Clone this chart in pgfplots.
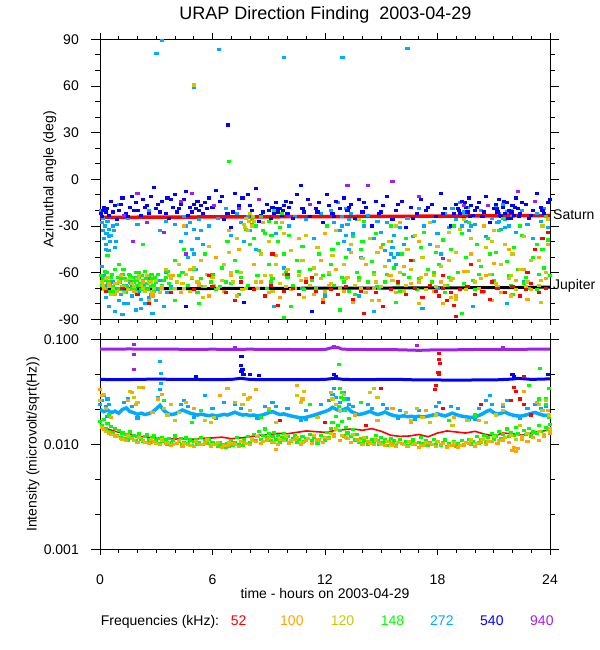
\documentclass[border=0pt]{standalone}
\usepackage{pgfplots}
\pgfplotsset{compat=1.18}
\usepackage{fontspec}
\setmainfont{Liberation Sans}
\definecolor{cfiftytwo}{RGB}{255,0,0}
\definecolor{chundred}{RGB}{255,165,0}
\definecolor{conetwenty}{RGB}{205,200,0}
\definecolor{conefortyeight}{RGB}{0,255,0}
\definecolor{ctwoseventwo}{RGB}{0,170,255}
\definecolor{cfivefourty}{RGB}{0,0,255}
\definecolor{cninefourty}{RGB}{160,32,240}
\pgfplotsset{
  dots/.style={only marks, mark=square*, mark size=1.05bp, mark options={xscale=1.5, line width=0pt}},
  common/.style={scale only axis, width=450bp, anchor=south west,
    xmin=0, xmax=24, xtick={0,6,12,18,24}, minor x tick num=5,
    tick align=outside, major tick length=6bp, minor tick length=3.3bp,
    major y tick style={/pgfplots/major tick length=9bp},
    minor y tick style={/pgfplots/minor tick length=4.5bp},
    axis line style={line width=0.9bp},
    tick style={line width=0.8bp, black},
    tick label style={font=\fontsize{14bp}{16bp}\selectfont},
    /pgf/number format/assume math mode=true,
    yticklabel style={anchor=east, inner sep=0pt, xshift=-15bp},
    xticklabel style={anchor=base, inner sep=0pt, yshift=-29bp},
  }
}
\begin{document}
\begin{tikzpicture}
\useasboundingbox (0,0) rectangle (600bp,650bp);
% ---------------- top panel ----------------
\begin{axis}[common, at={(100bp,330.7bp)}, height=280bp,
  ymin=-90, ymax=90, ytick={-90,-60,-30,0,30,60,90},
  yticklabels={-90,-60,-30,0,30,60,90}, minor y tick num=2,
  xticklabels={}]
\addplot[no marks, line width=3bp, black] coordinates {(0,-70.5)(6,-70.2)(12,-70.0)(18,-69.8)(22,-69.6)(24,-69.3)};
% 272 kHz
\addplot[dots, color=ctwoseventwo] coordinates {
(0.05,-20)(0.1,-28)(0.15,-33)(0.2,-38)(0.25,-30)(0.3,-42)(0.35,-35)(0.4,-27)(0.45,-46)(0.5,-32)(0.55,-40)(0.6,-36)(0.7,-30)(0.8,-44)(0.9,-29)
(0.1,-56)(0.2,-62)(0.3,-76)(0.4,-68)(0.5,-82)(0.6,-73)(0.7,-66)(0.8,-85)(0.9,-70)(1.0,-78)(1.1,-64)(1.2,-87)(1.3,-72)(1.4,-68)(1.5,-80)(1.6,-66)(1.7,-75)(1.8,-70)(1.9,-84)(2.0,-63)(2.1,-72)(2.2,-77)(2.3,-67)(2.4,-80)(2.5,-70)(2.6,-64)(2.7,-74)(2.8,-86)(2.9,-68)(3.0,-78)(3.1,-71)(3.2,-65)(3.4,-82)(3.6,-73)(3.8,-69)
(1.0,-16)(1.5,-25)(2.0,-29)(2.6,-20)(3.2,-33)(3.5,-27)(4.0,-29)(4.3,-40)(4.5,-24)(4.6,-35)(4.7,-50)(4.8,-28)(4.9,-45)(5.0,-32)(5.1,-58)(5.2,-38)(5.3,-26)(5.5,-42)(5.8,-30)(6.0,-61)(6.3,-25)(6.7,-19)(7.0,-36)(7.3,-22)(7.5,-28)(7.7,-40)(7.9,-24)(8.0,-33)(8.3,-45)(8.6,-23)(9.0,-27)(9.4,-35)(9.8,-57)(10.1,-30)(10.4,-24)(10.8,-70)(11.0,-26)(11.4,-38)(11.8,-22)(12.0,-75)
(12.3,-20)(12.5,-28)(12.7,-15)(12.8,-33)(12.9,-24)(13.0,-40)(13.1,-19)(13.2,-29)(13.3,-45)(13.4,-22)(13.5,-35)(13.7,-26)(13.9,-50)(14.1,-30)(14.3,-23)(14.6,-38)(14.8,-27)(15.0,-34)(15.2,-46)(15.3,-28)(15.4,-52)(15.5,-40)(15.6,-44)(15.7,-36)(15.8,-55)(15.9,-48)(16.0,-31)(16.2,-42)(16.4,-25)(16.7,-37)(17.0,-19)(17.3,-30)(17.6,-42)(17.8,-27)(18.0,-35)(18.2,-48)(18.4,-22)(18.6,-31)(18.8,-19)(19.0,-26)(19.2,-15)(19.3,-30)(19.4,-21)(19.5,-27)(19.6,-18)(19.7,-33)(19.8,-24)(20.0,-29)(20.3,-20)(20.6,-37)(20.9,-25)(21.1,-18)(21.2,-28)(21.3,-22)(21.4,-32)(21.5,-16)(21.6,-26)(21.7,-21)(21.8,-30)(22.0,-24)(22.2,-34)(22.5,-20)(22.8,-29)(23.1,-38)(23.3,-22)(23.5,-27)(23.7,-19)(23.9,-31)
(13.8,-75)(14.6,-85)(17.2,-83)(19.9,-82)(21.7,-80)(22.6,-66)(18.0,-70)(9.3,-82)(7.4,-74)(3.5,-60)
(0.15,-25)(0.3,-45)(0.5,-37)(0.75,-33)(0.85,-40)(1.1,-74)(1.3,-80)(1.7,-69)(2.2,-83)(2.6,-76)(3.0,-70)(4.6,-30)(5.0,-48)(5.4,-33)(8.1,-29)(12.9,-30)(13.1,-36)(13.3,-26)(15.5,-48)(15.7,-50)(19.5,-22)(19.8,-30)(21.3,-27)(21.6,-31)(21.9,-20)
(3.01,80.7)(3.3,89)(6.33,83.6)(9.8,78.2)(12.93,78.2)(16.4,83.8)(5.01,59.1)};
% 540 kHz
\addplot[dots, color=cfivefourty] coordinates {
(0.05,-22)(0.1,-24)(0.15,-20)(0.3,-21)(0.35,-19)(0.5,-23)(0.6,-14)(0.8,-17)(0.9,-26)(1.0,-20)(1.2,-12)(1.4,-22)(1.6,-18)(1.7,-11)(1.9,-15)(2.0,-20)(2.2,-23)(2.3,-13)(2.4,-18)(2.6,-22)(2.7,-11)(2.9,-5)(3.0,-19)(3.1,-16)(3.3,-14)(3.5,-22)(3.6,-12)(3.7,-25)(3.9,-18)(4.0,-10)(4.1,-21)(4.3,-16)(4.5,-13)(4.6,-8)(4.8,-18)(4.9,-21)(5.0,-16)(5.1,-19)(5.2,-14)(5.3,-20)(5.4,-17)(5.5,-22)(5.6,-15)(5.8,-12)(6.0,-18)(6.2,-7)(6.4,-14)(6.6,-26)(6.8,-22)(7.0,-31)(7.2,-9)(7.4,-17)(7.6,-12)(7.7,-79)(7.9,-10)(8.1,-20)(8.3,-6)(8.5,-27)(8.7,-21)(8.9,-16)(9.0,-20)(9.2,-18)(9.3,-22)(9.4,-15)(9.5,-21)(9.6,-19)(9.7,-23)(9.8,-17)(9.9,-14)(10.0,-22)(10.1,-18)(10.3,-25)(10.5,-10)(10.7,-4)(10.9,-21)(11.1,-13)(11.2,-24)(11.3,-85)(11.5,-19)(11.7,-15)(11.9,-28)(12.1,-10)(12.2,-17)(12.4,-22)(12.6,-14)(12.8,-19)(13.0,-12)(13.2,-20)(13.4,-16)(13.6,-25)(13.8,-13)(14.0,-21)(14.2,-18)(14.5,-30)(14.7,-14)(14.9,-22)(15.1,-17)(15.3,-11)(15.6,-26)(15.8,-20)(16.1,-14)(16.3,-31)(16.6,-18)(16.9,-22)(17.1,-13)(17.4,-20)(17.7,-16)(17.9,-24)(18.2,-9)(18.4,-19)(18.7,-30)(18.9,-22)(19.0,-16)(19.1,-19)(19.2,-22)(19.3,-14)(19.4,-25)(19.5,-18)(19.6,-21)(19.7,-12)(19.8,-17)(19.9,-23)(20.0,-20)(20.2,-15)(20.4,-24)(20.6,-11)(20.8,-28)(21.0,-19)(21.1,-16)(21.2,-21)(21.3,-13)(21.4,-24)(21.5,-18)(21.6,-22)(21.7,-15)(21.8,-20)(21.9,-25)(22.0,-17)(22.1,-23)(22.2,-12)(22.3,-19)(22.4,-22)(22.7,-16)(22.9,-25)(23.1,-20)(23.3,-9)(23.5,-18)(23.7,-22)(23.9,-15)(24.0,-13)(4.6,-82)(6.83,34.9)
(0.2,-18)(0.7,-21)(1.1,-16)(1.5,-24)(1.8,-20)(2.5,-17)(3.2,-21)(3.8,-13)(4.2,-19)(4.7,-23)(5.7,-19)(6.5,-11)(7.1,-21)(8.0,-17)(8.6,-23)(9.1,-25)(9.45,-19)(9.75,-20)(10.2,-15)(10.8,-19)(11.6,-21)(12.5,-24)(13.3,-18)(14.1,-15)(15.0,-21)(15.9,-16)(16.7,-25)(17.5,-18)(18.3,-22)(19.15,-20)(19.45,-15)(19.75,-24)(20.1,-18)(20.5,-21)(21.15,-19)(21.35,-23)(21.55,-14)(21.75,-25)(21.95,-21)(22.15,-18)(22.35,-24)(22.5,-15)(23.0,-23)(23.6,-20)};
% 940 kHz
\addplot[dots, color=cninefourty] coordinates {
(1.74,-40)(2.0,-9)(2.5,-28)(3.4,-34)(4.3,-14)(4.9,-9)(6.1,-17)(7.4,-19)(8.5,-13)(10.1,-24)(11.2,-16)(13.2,-4)(14.3,-4)(15.6,-1.5)(17.0,-11)(18.3,-51)(19.4,-17)(20.7,-17)(22.3,-8)(23.2,-14)(1.3,-23)(4.6,-48)};
% 148 kHz
\addplot[dots, color=conefortyeight] coordinates {
(0.05,-62)(0.1,-68)(0.2,-65)(0.3,-70)(0.35,-60)(0.45,-66)(0.5,-72)(0.6,-63)(0.7,-69)(0.8,-58)(0.9,-67)(1.0,-71)(1.1,-64)(1.2,-61)(1.3,-68)(1.4,-73)(1.5,-65)(1.6,-62)(1.7,-70)(1.8,-66)(1.9,-60)(2.0,-68)(2.1,-63)(2.2,-71)(2.3,-65)(2.4,-59)(2.5,-67)(2.6,-62)(2.7,-69)(2.8,-64)(2.9,-72)(3.0,-66)(3.1,-61)(3.3,-68)(3.5,-63)
(0.4,-49)(1.0,-55)(2.3,-42)(3.8,-70)(4.0,-52)(4.2,-62)(4.5,-45)(4.7,-68)(5.0,-58)(5.2,-73)(5.4,-64)(5.6,-48)(5.9,-66)(6.2,-71)(6.5,-57)(6.8,-40)(7.0,-67)(7.2,-52)(7.5,-63)(7.8,-32)(8.0,-42)(8.1,-26)(8.2,-38)(8.3,-30)(8.5,-46)(8.6,-24)(8.8,-35)(9.0,-55)(9.2,-64)(9.4,-28)(9.5,-40)(9.6,-31)(9.7,-22)(9.8,-48)(9.9,-60)(10.1,-36)(10.3,-68)(10.5,-52)(10.8,-43)(11.0,-66)(11.2,-58)(11.5,-70)(11.7,-48)(11.9,-62)(12.1,-30)(12.3,-55)(12.5,-68)(12.7,-41)(12.9,-63)(13.1,-50)(13.3,-72)(13.5,-37)(13.7,-60)(13.9,-45)(14.1,-27)(14.3,-66)(14.5,-53)(14.7,-35)(14.9,-70)(15.1,-42)(15.3,-61)(15.5,-30)(15.7,-57)(15.9,-67)(16.1,-48)(16.3,-38)(16.5,-63)(16.7,-52)(16.9,-71)(17.1,-44)(17.3,-34)(17.5,-58)(17.7,-66)(17.9,-47)(18.1,-55)(18.3,-39)(18.5,-68)(18.7,-45)(18.9,-30)(19.1,-60)(19.3,-35)(19.5,-50)(19.7,-28)(19.9,-65)(20.1,-42)(20.3,-56)(20.5,-72)(20.7,-38)(20.9,-61)(21.1,-47)(21.3,-33)(21.5,-25)(21.7,-53)(21.9,-68)(22.1,-44)(22.3,-58)(22.5,-36)(22.7,-63)(22.9,-70)(23.1,-50)(23.3,-42)(23.5,-65)(23.7,-57)(23.9,-39)(24.0,-62)
(6.4,-69)(8.9,-70)(10.9,-71)(12.0,-73)(13.6,-74)(14.8,-69)(16.0,-72)(18.4,-73)(20.0,-71)(22.0,-74)(23.3,-71)
(4.0,-78)(10.2,-82)(12.8,-84)(15.8,-79)(19.3,-86)(9.8,-89)(5.3,-80)(8.0,-22)(9.3,-20)(23.8,-24)(6.9,11.7)
(0.15,-64)(0.25,-59)(0.55,-68)(0.65,-61)(0.75,-72)(0.95,-63)(1.05,-66)(1.15,-70)(1.25,-58)(1.35,-64)(1.45,-69)(1.55,-61)(1.65,-67)(1.75,-63)(1.85,-71)(1.95,-65)(2.05,-60)(2.15,-67)(2.25,-62)(2.35,-69)(2.45,-64)(2.55,-71)(2.65,-66)(2.75,-61)(2.85,-68)(2.95,-63)(3.2,-70)(3.4,-65)(3.6,-59)(3.7,-67)(4.1,-66)(4.4,-60)(4.9,-64)(5.5,-69)(6.0,-62)(6.7,-66)(7.3,-59)(7.9,-68)(8.4,-62)(9.1,-66)(10.0,-63)(10.6,-59)(11.3,-65)(12.2,-61)(13.0,-66)(13.8,-63)(14.6,-60)(15.2,-66)(16.2,-61)(17.0,-64)(17.8,-60)(18.6,-63)(19.4,-67)(20.2,-61)(21.0,-65)(21.8,-62)(22.6,-67)(23.4,-61)(8.7,-33)(9.0,-27)(9.15,-36)(12.4,-45)(14.0,-40)(20.8,-48)(22.4,-30)(23.6,-45)};
% 120 kHz
\addplot[dots, color=conetwenty] coordinates {
(0.1,-66)(0.2,-71)(0.3,-64)(0.5,-69)(0.6,-74)(0.8,-67)(0.9,-72)(1.1,-62)(1.2,-69)(1.4,-65)(1.5,-71)(1.7,-67)(1.9,-73)(2.0,-64)(2.2,-68)(2.4,-72)(2.5,-62)(2.7,-66)(2.9,-70)(3.2,-73)
(3.5,-58)(3.8,-64)(4.0,-70)(4.2,-55)(4.4,-67)(4.6,-61)(4.8,-72)(5.0,-57)(5.2,-66)(5.4,-52)(5.6,-69)(5.8,-43)(6.0,-63)(6.3,-70)(6.6,-55)(6.9,-47)(7.1,-66)(7.3,-38)(7.5,-60)(7.7,-29)(7.8,-25)(7.9,-33)(8.0,-22)(8.1,-30)(8.2,-27)(8.4,-70)(8.6,-48)(8.8,-62)(9.0,-40)(9.2,-72)(9.4,-55)(9.6,-67)(9.8,-35)(10.0,-58)(10.2,-46)(10.4,-70)(10.6,-62)(10.8,-52)(11.0,-36)(11.2,-68)(11.4,-57)(11.6,-44)(11.8,-64)(12.0,-72)(12.2,-60)(12.4,-49)(12.6,-33)(12.8,-70)(13.0,-55)(13.2,-63)(13.4,-42)(13.6,-68)(13.8,-26)(14.0,-51)(14.2,-73)(14.4,-38)(14.6,-61)(14.8,-47)(15.0,-69)(15.2,-56)(15.4,-40)(15.6,-65)(15.8,-30)(16.0,-60)(16.2,-72)(16.4,-45)(16.6,-58)(16.8,-36)(17.0,-66)(17.2,-50)(17.4,-71)(17.6,-28)(17.8,-62)(18.0,-43)(18.2,-56)(18.4,-68)(18.6,-34)(18.8,-64)(19.0,-47)(19.2,-71)(19.4,-26)(19.6,-59)(19.8,-38)(20.0,-66)(20.2,-52)(20.4,-73)(20.6,-44)(20.8,-61)(21.0,-33)(21.2,-69)(21.4,-55)(21.6,-42)(21.8,-64)(22.0,-48)(22.2,-71)(22.4,-58)(22.6,-37)(22.8,-66)(23.0,-52)(23.2,-45)(23.4,-68)(23.6,-30)(23.8,-60)(23.9,-26)
(7.3,-75)(10.9,-76)(14.5,-78)(17.0,-80)(19.0,-77)(21.9,-75)(23.5,-79)(5.5,-76)(2.6,-78)(5.01,60.6)
(0.15,-68)(0.4,-63)(0.7,-70)(1.0,-66)(1.3,-73)(1.6,-64)(1.8,-69)(2.1,-62)(2.3,-70)(2.6,-66)(2.8,-73)(3.0,-65)(3.3,-69)(3.7,-62)(4.1,-66)(4.5,-70)(4.9,-63)(5.3,-67)(5.7,-61)(6.1,-68)(6.5,-65)(7.0,-60)(7.6,-71)(8.3,-66)(9.1,-62)(9.9,-69)(10.7,-65)(11.5,-61)(12.3,-67)(13.1,-64)(13.9,-70)(14.7,-66)(15.5,-62)(16.3,-68)(17.1,-63)(17.9,-69)(18.7,-65)(19.5,-71)(20.3,-64)(21.1,-67)(21.9,-62)(22.7,-69)(23.5,-65)(7.75,-31)(7.95,-27)(8.15,-24)(9.7,-28)(19.2,-32)(20.9,-40)};
% 100 kHz
\addplot[dots, color=chundred] coordinates {
(0.2,-70)(0.5,-67)(0.8,-74)(1.3,-69)(1.8,-72)(2.3,-66)(2.8,-75)(3.3,-70)(3.9,-62)(4.3,-73)(4.8,-58)(5.3,-68)(5.8,-75)(6.2,-50)(6.6,-72)(7.0,-62)(7.4,-45)(7.8,-70)(8.2,-55)(8.6,-66)(9.0,-73)(9.4,-49)(9.8,-61)(10.2,-71)(10.6,-38)(11.0,-64)(11.4,-74)(11.8,-52)(12.2,-68)(12.6,-58)(13.0,-72)(13.4,-47)(13.8,-65)(14.2,-55)(14.6,-70)(15.0,-44)(15.4,-62)(15.8,-73)(16.2,-56)(16.6,-67)(17.0,-40)(17.4,-61)(17.8,-72)(18.2,-66)(18.6,-52)(19.0,-75)(19.4,-59)(19.8,-48)(20.2,-70)(20.6,-62)(21.0,-54)(21.4,-73)(21.8,-45)(22.2,-65)(22.6,-58)(23.0,-71)(23.4,-50)(23.8,-64)
(11.9,-77)(13.5,-79)(18.3,-80)(18.7,-76)(20.9,-78)(22.8,-77)(9.6,-76)(14.9,-78)
(4.5,-30)(6.9,-33)(8.7,-28)(12.0,-35)(16.0,-28)(20.5,-30)(23.9,-42)};
% 52 kHz
\addplot[dots, color=cfiftytwo] coordinates {
(0.3,-72)(1.2,-70)(2.0,-74)(3.8,-73)(5.0,-71)(6.0,-69)(6.7,-73)(7.2,-78)(7.5,-66)(8.2,-71)(8.8,-75)(9.1,-68)(9.5,-81)(9.8,-72)(10.3,-70)(10.6,-74)(11.0,-66)(11.5,-72)(11.9,-79)(12.3,-71)(12.7,-74)(13.1,-69)(13.5,-77)(13.9,-72)(14.3,-70)(14.7,-73)(15.1,-82)(15.5,-71)(15.9,-66)(16.3,-74)(16.8,-70)(17.2,-76)(17.6,-68)(17.9,-72)(18.1,-75)(18.3,-70)(18.5,-78)(18.7,-73)(18.9,-81)(19.2,-71)(19.6,-69)(20.0,-74)(20.4,-72)(20.8,-77)(21.2,-70)(21.6,-73)(22.0,-69)(22.4,-75)(22.7,-71)(23.0,-67)(23.4,-73)(23.8,-70)
(5.8,-62)(10.0,-61)(11.3,-63)(16.6,-52)(19.8,-55)(20.9,-66)(22.8,-60)(23.2,-45)(23.6,-38)(23.9,-34)(18.3,-62)(9.2,-48)(2.6,-80)(14.1,-86)(19.0,-88)};
\addplot[no marks, line width=3.5bp, color=cfiftytwo] coordinates {(0,-24.5)(6,-24.2)(12,-24.0)(18,-23.7)(24,-23.3)};
\end{axis}
% ---------------- bottom panel ----------------
\begin{axis}[common, at={(100bp,100.7bp)}, height=210bp,
  ymode=log, ymin=0.001, ymax=0.1, ytick={0.001,0.01,0.1},
  yticklabels={0.001,0.010,0.100},
  minor ytick={0.00215,0.00464,0.0215,0.0464}]
\addplot[no marks, line width=3bp, color=cninefourty] coordinates {
(0,0.0805)(1,0.0805)(1.6,0.081)(2,0.0805)(3,0.0808)(4,0.0805)(5,0.0800)(6,0.0805)(7,0.0800)(8,0.0805)(9,0.0800)(10,0.0800)(11,0.0798)(12,0.0800)(12.4,0.0835)(12.7,0.0835)(12.9,0.0805)(14,0.0800)(15,0.0798)(16,0.0795)(17,0.0785)(17.5,0.079)(18,0.0795)(19,0.0795)(20,0.0800)(21,0.0800)(22,0.0800)(23,0.0805)(24,0.0805)};
\addplot[dots, color=cninefourty] coordinates {(1.8,0.089)(1.8,0.071)(1.8,0.052)(16.9,0.087)(12.5,0.086)(7.2,0.083)(21.5,0.083)};
\addplot[no marks, line width=3bp, color=cfivefourty] coordinates {
(0,0.0415)(1,0.0412)(2,0.0415)(3,0.0418)(4,0.0415)(5,0.0415)(6,0.0412)(7,0.0415)(7.5,0.0425)(8,0.0415)(9,0.0412)(10,0.0412)(11,0.0412)(12,0.0415)(12.5,0.0425)(13,0.0415)(14,0.0412)(15,0.0415)(16,0.0415)(17,0.0410)(18,0.0410)(19,0.0408)(20,0.0410)(21,0.0410)(22,0.0418)(22.3,0.0425)(23,0.0415)(24,0.0420)};
\addplot[dots, color=cfivefourty] coordinates {(7.55,0.068)(7.5,0.056)(7.6,0.052)(7.55,0.049)(7.65,0.046)(8.0,0.046)(8.5,0.045)(5.1,0.044)(12.5,0.046)(12.6,0.044)(22.0,0.046)(22.1,0.044)(23.9,0.046)};
\addplot[no marks, line width=3.5bp, color=ctwoseventwo] coordinates {
(0,0.0215)(0.2,0.0205)(0.4,0.0212)(0.6,0.0200)(0.8,0.0207)(1.0,0.0198)(1.2,0.0215)(1.4,0.0222)(1.6,0.0205)(1.8,0.0200)(2.0,0.0193)(2.2,0.0198)(2.4,0.0192)(2.6,0.0196)(2.8,0.0203)(3.0,0.0218)(3.2,0.0235)(3.4,0.0210)(3.6,0.0197)(3.8,0.0192)(4.0,0.0195)(4.2,0.0203)(4.4,0.0212)(4.6,0.0205)(4.8,0.0198)(5.0,0.0194)(5.2,0.0190)(5.4,0.0194)(5.6,0.0190)(5.8,0.0187)(6.0,0.0190)(6.2,0.0186)(6.4,0.0189)(6.6,0.0193)(6.8,0.0190)(7.0,0.0196)(7.2,0.0202)(7.4,0.0195)(7.6,0.0190)(7.8,0.0192)(8.0,0.0188)(8.2,0.0190)(8.4,0.0186)(8.6,0.0189)(8.8,0.0194)(9.0,0.0200)(9.2,0.0205)(9.4,0.0198)(9.6,0.0192)(9.8,0.0195)(10.0,0.0190)(10.2,0.0186)(10.4,0.0183)(10.6,0.0180)(10.8,0.0178)(11.0,0.0181)(11.2,0.0185)(11.4,0.0189)(11.6,0.0194)(11.8,0.0200)(12.0,0.0205)(12.2,0.0212)(12.4,0.0225)(12.6,0.0215)(12.8,0.0208)(13.0,0.0215)(13.2,0.0222)(13.4,0.0205)(13.6,0.0198)(13.8,0.0192)(14.0,0.0195)(14.2,0.0200)(14.4,0.0206)(14.6,0.0198)(14.8,0.0192)(15.0,0.0196)(15.2,0.0203)(15.4,0.0195)(15.6,0.0189)(15.8,0.0186)(16.0,0.0184)(16.2,0.0187)(16.4,0.0183)(16.6,0.0185)(16.8,0.0182)(17.0,0.0185)(17.2,0.0182)(17.4,0.0184)(17.6,0.0187)(17.8,0.0191)(18.0,0.0195)(18.2,0.0190)(18.4,0.0186)(18.6,0.0192)(18.8,0.0198)(19.0,0.0192)(19.2,0.0187)(19.4,0.0184)(19.6,0.0182)(19.8,0.0180)(20.0,0.0183)(20.2,0.0188)(20.4,0.0195)(20.6,0.0205)(20.8,0.0212)(21.0,0.0200)(21.2,0.0194)(21.4,0.0198)(21.6,0.0203)(21.8,0.0195)(22.0,0.0190)(22.2,0.0187)(22.4,0.0185)(22.6,0.0188)(22.8,0.0192)(23.0,0.0197)(23.2,0.0201)(23.4,0.0195)(23.6,0.0190)(23.8,0.0188)(24.0,0.0192)};
\addplot[dots, color=ctwoseventwo] coordinates {
(0.0,0.024)(0.1,0.026)(0.2,0.029)(0.3,0.023)(0.4,0.027)(0.5,0.024)(1.3,0.025)(1.5,0.027)(1.7,0.023)(3.1,0.028)(3.2,0.033)(3.25,0.038)(3.3,0.030)(3.4,0.026)(3.2,0.062)(3.25,0.047)(4.3,0.024)(4.5,0.026)(4.7,0.023)(5.6,0.029)(6.0,0.022)(6.6,0.025)(7.2,0.024)(7.5,0.022)(8.8,0.023)(9.2,0.025)(9.4,0.023)(10.0,0.022)(11.0,0.021)(11.8,0.024)(12.2,0.026)(12.4,0.030)(12.5,0.034)(12.6,0.028)(12.8,0.025)(13.0,0.031)(13.2,0.027)(13.3,0.024)(13.5,0.023)(14.3,0.024)(14.5,0.022)(15.1,0.024)(15.3,0.022)(16.0,0.021)(17.0,0.021)(17.9,0.023)(18.1,0.025)(18.7,0.023)(19.1,0.022)(20.2,0.022)(20.6,0.026)(20.8,0.029)(20.9,0.024)(21.5,0.023)(21.7,0.026)(22.8,0.022)(23.2,0.024)(23.5,0.022)(23.8,0.023)
(0.4,0.0185)(2.0,0.0178)(5.0,0.0180)(6.2,0.0176)(8.4,0.0177)(10.7,0.0170)(11.0,0.0172)(15.9,0.0175)(16.8,0.0173)(19.7,0.0171)(20.0,0.0173)(22.4,0.0176)};
% 148 kHz
\addplot[dots, color=conefortyeight] coordinates {
(0.0,0.0165)(0.1,0.0150)(0.2,0.0172)(0.3,0.0140)(0.4,0.0158)(0.5,0.0133)(0.6,0.0148)(0.7,0.0128)(0.8,0.0142)(0.9,0.0120)(1.0,0.0135)(1.1,0.0117)(1.2,0.0128)(1.3,0.0113)(1.4,0.0125)(1.5,0.0110)(1.6,0.0131)(1.7,0.0115)(1.8,0.0122)(1.9,0.0108)(2.0,0.0119)(2.1,0.0127)(2.2,0.0112)(2.3,0.0106)(2.4,0.0118)(2.5,0.0124)(2.6,0.0110)(2.7,0.0104)(2.8,0.0115)(2.9,0.0121)(3.0,0.0108)(3.1,0.0113)(3.2,0.0102)(3.3,0.0117)(3.4,0.0106)(3.5,0.0111)(3.6,0.0100)(3.7,0.0114)(3.8,0.0104)(3.9,0.0109)(4.0,0.0120)(4.1,0.0101)(4.2,0.0107)(4.3,0.0113)(4.4,0.0099)(4.5,0.0105)(4.6,0.0116)(4.7,0.0102)(4.8,0.0110)(4.9,0.0098)(5.0,0.0106)(5.1,0.0112)(5.2,0.0100)(5.3,0.0104)(5.4,0.0117)(5.5,0.0099)(5.6,0.0108)(5.7,0.0102)(5.8,0.0111)(5.9,0.0097)(6.0,0.0105)(6.2,0.0100)(6.3,0.0096)(6.4,0.0103)(6.5,0.0095)(6.6,0.0099)(6.7,0.0094)(6.8,0.0101)(6.9,0.0096)(7.0,0.0108)(7.1,0.0097)(7.2,0.0103)(7.3,0.0115)(7.4,0.0099)(7.5,0.0106)(7.6,0.0098)(7.7,0.0110)(7.8,0.0102)(7.9,0.0118)(8.0,0.0105)(8.1,0.0112)(8.2,0.0125)(8.3,0.0108)(8.4,0.0118)(8.5,0.0132)(8.6,0.0111)(8.7,0.0122)(8.8,0.0140)(8.9,0.0115)(9.0,0.0126)(9.1,0.0108)(9.2,0.0119)(9.3,0.0130)(9.4,0.0112)(9.5,0.0121)(9.6,0.0105)(9.7,0.0116)(9.8,0.0127)(9.9,0.0110)(10.0,0.0118)(10.2,0.0106)(10.3,0.0113)(10.4,0.0122)(10.5,0.0104)(10.6,0.0111)(10.8,0.0119)(10.9,0.0107)(11.0,0.0114)(11.2,0.0125)(11.3,0.0109)(11.4,0.0117)(11.6,0.0103)(11.7,0.0112)(11.8,0.0121)(12.0,0.0108)(12.1,0.0130)(12.2,0.0115)(12.3,0.0142)(12.4,0.0160)(12.5,0.0125)(12.6,0.0185)(12.7,0.0150)(12.75,0.0230)(12.8,0.0135)(12.85,0.0280)(12.9,0.0165)(13.0,0.0120)(13.05,0.0210)(13.1,0.0145)(13.2,0.0128)(13.3,0.0175)(13.4,0.0118)(13.5,0.0138)(13.6,0.0110)(13.7,0.0125)(13.8,0.0104)(13.9,0.0113)(14.0,0.0101)(14.1,0.0108)(14.2,0.0116)(14.3,0.0099)(14.4,0.0106)(14.5,0.0112)(14.6,0.0103)(14.7,0.0122)(14.8,0.0108)(14.9,0.0100)(15.0,0.0115)(15.1,0.0104)(15.2,0.0110)(15.3,0.0098)(15.4,0.0106)(15.5,0.0113)(15.6,0.0101)(15.7,0.0108)(15.8,0.0097)(15.9,0.0104)(16.0,0.0112)(16.2,0.0100)(16.3,0.0106)(16.4,0.0097)(16.6,0.0103)(16.7,0.0110)(16.8,0.0099)(17.0,0.0105)(17.1,0.0117)(17.2,0.0101)(17.4,0.0108)(17.5,0.0098)(17.6,0.0104)(17.8,0.0112)(17.9,0.0100)(18.0,0.0106)(18.2,0.0097)(18.3,0.0103)(18.4,0.0110)(18.5,0.0096)(18.6,0.0101)(18.8,0.0098)(18.9,0.0106)(19.0,0.0095)(19.1,0.0102)(19.3,0.0108)(19.4,0.0099)(19.5,0.0104)(19.7,0.0112)(19.8,0.0100)(19.9,0.0107)(20.1,0.0118)(20.2,0.0103)(20.3,0.0110)(20.5,0.0122)(20.6,0.0106)(20.7,0.0115)(20.9,0.0127)(21.0,0.0111)(21.1,0.0120)(21.3,0.0132)(21.4,0.0114)(21.5,0.0125)(21.7,0.0140)(21.8,0.0118)(21.9,0.0130)(22.1,0.0122)(22.2,0.0145)(22.3,0.0127)(22.5,0.0117)(22.6,0.0135)(22.7,0.0124)(22.9,0.0142)(23.0,0.0120)(23.1,0.0131)(23.3,0.0126)(23.4,0.0150)(23.5,0.0133)(23.7,0.0122)(23.8,0.0145)(23.9,0.0138)(24.0,0.0155)
(12.75,0.058)(12.8,0.034)(12.9,0.031)(13.0,0.027)(9.0,0.021)(8.6,0.018)(11.2,0.024)(13.9,0.025)(22.9,0.036)(23.6,0.021)(23.95,0.018)(23.8,0.024)(20.0,0.019)(18.6,0.017)(5.4,0.021)(3.4,0.026)(4.9,0.016)(0.5,0.019)(23.47,0.053)(23.95,0.034)(23.4,0.027)(23.8,0.0275)};
% 120 kHz
\addplot[dots, color=conetwenty] coordinates {
(0.1,0.0145)(0.3,0.0132)(0.6,0.0125)(0.9,0.0118)(1.2,0.0112)(1.5,0.0120)(1.8,0.0108)(2.1,0.0115)(2.4,0.0105)(2.7,0.0112)(3.0,0.0102)(3.3,0.0110)(3.6,0.0105)(3.9,0.0100)(4.2,0.0108)(4.5,0.0102)(4.8,0.0098)(5.1,0.0106)(5.4,0.0100)(5.7,0.0110)(6.0,0.0099)(6.3,0.0104)(6.6,0.0097)(6.9,0.0103)(7.2,0.0099)(7.5,0.0107)(7.8,0.0101)(8.1,0.0110)(8.4,0.0118)(8.7,0.0106)(9.0,0.0114)(9.3,0.0104)(9.6,0.0112)(9.9,0.0120)(10.2,0.0108)(10.5,0.0116)(10.8,0.0105)(11.1,0.0113)(11.4,0.0121)(11.7,0.0109)(12.0,0.0116)(12.3,0.0127)(12.6,0.0140)(12.9,0.0122)(13.2,0.0113)(13.5,0.0125)(13.8,0.0108)(14.1,0.0115)(14.4,0.0103)(14.7,0.0110)(15.0,0.0100)(15.3,0.0106)(15.6,0.0098)(15.9,0.0104)(16.2,0.0099)(16.5,0.0107)(16.8,0.0101)(17.1,0.0097)(17.4,0.0104)(17.7,0.0099)(18.0,0.0106)(18.3,0.0101)(18.6,0.0097)(18.9,0.0103)(19.2,0.0098)(19.5,0.0105)(19.8,0.0110)(20.1,0.0102)(20.4,0.0112)(20.7,0.0106)(21.0,0.0118)(21.3,0.0109)(21.6,0.0115)(21.9,0.0122)(22.2,0.0111)(22.5,0.0119)(22.8,0.0126)(23.1,0.0116)(23.4,0.0132)(23.7,0.0124)(24.0,0.0140)
(0.0,0.026)(0.2,0.030)(1.6,0.032)(1.8,0.028)(2.0,0.025)(2.1,0.035)(3.4,0.022)(3.6,0.019)(3.8,0.024)(4.0,0.017)(4.2,0.020)(5.6,0.017)(5.9,0.016)(6.1,0.018)(7.6,0.024)(7.7,0.030)(7.9,0.027)(8.0,0.021)(10.5,0.029)(10.7,0.025)(10.9,0.032)(12.4,0.027)(12.6,0.024)(12.8,0.021)(13.0,0.030)(14.4,0.031)(14.6,0.034)(14.8,0.028)(16.3,0.020)(16.6,0.017)(16.9,0.022)(17.2,0.018)(17.6,0.016)(17.9,0.019)(20.6,0.016)(21.1,0.019)(21.5,0.021)(23.4,0.024)(23.6,0.021)(23.8,0.026)(23.95,0.019)(9.4,0.016)(11.6,0.018)(18.8,0.015)(19.6,0.017)(22.4,0.015)};
% 100 kHz
\addplot[dots, color=chundred] coordinates {
(0.2,0.0138)(0.5,0.0128)(0.8,0.0120)(1.1,0.0114)(1.4,0.0109)(1.7,0.0113)(2.0,0.0104)(2.3,0.0108)(2.6,0.0101)(2.9,0.0106)(3.2,0.0099)(3.5,0.0103)(3.8,0.0097)(4.1,0.0102)(4.4,0.0096)(4.7,0.0100)(5.0,0.0095)(5.3,0.0099)(5.6,0.0103)(5.9,0.0096)(6.2,0.0100)(6.5,0.0094)(6.8,0.0098)(7.1,0.0102)(7.4,0.0096)(7.7,0.0104)(8.0,0.0099)(8.3,0.0107)(8.6,0.0102)(8.9,0.0110)(9.2,0.0104)(9.5,0.0099)(9.8,0.0108)(10.1,0.0103)(10.4,0.0111)(10.7,0.0100)(11.0,0.0108)(11.3,0.0102)(11.6,0.0110)(11.9,0.0104)(12.2,0.0113)(12.5,0.0120)(12.8,0.0108)(13.1,0.0116)(13.4,0.0104)(13.7,0.0111)(14.0,0.0100)(14.3,0.0106)(14.6,0.0099)(14.9,0.0104)(15.2,0.0097)(15.5,0.0102)(15.8,0.0096)(16.1,0.0101)(16.4,0.0095)(16.7,0.0099)(17.0,0.0094)(17.3,0.0098)(17.6,0.0102)(17.9,0.0096)(18.2,0.0100)(18.5,0.0094)(18.8,0.0097)(19.1,0.0093)(19.4,0.0098)(19.7,0.0102)(20.0,0.0096)(20.3,0.0104)(20.6,0.0099)(20.9,0.0107)(21.2,0.0101)(21.5,0.0110)(21.8,0.0104)(22.1,0.0093)(22.3,0.0091)(22.5,0.0112)(22.8,0.0106)(23.1,0.0115)(23.4,0.0109)(23.7,0.0120)(24.0,0.0128)
(0.0,0.033)(0.1,0.029)(0.3,0.022)(0.6,0.018)(1.5,0.026)(1.7,0.031)(1.9,0.024)(2.3,0.035)(2.8,0.020)(3.1,0.027)(3.3,0.030)(4.6,0.025)(5.0,0.022)(6.4,0.029)(6.8,0.034)(7.2,0.025)(8.0,0.028)(8.3,0.033)(9.0,0.022)(10.5,0.036)(10.8,0.027)(12.3,0.031)(13.6,0.019)(14.8,0.017)(15.6,0.022)(16.6,0.016)(17.4,0.021)(18.9,0.018)(20.2,0.017)(21.5,0.024)(22.6,0.032)(23.3,0.025)(23.9,0.021)(9.4,0.0090)(22.0,0.0088)(22.2,0.0086)};
% 52 kHz
\addplot[no marks, line width=1.6bp, color=cfiftytwo] coordinates {
(0,0.0142)(0.4,0.0140)(0.8,0.0133)(1.2,0.0128)(1.6,0.0124)(2.0,0.0120)(2.5,0.0117)(3.0,0.0115)(3.5,0.0113)(4.0,0.0112)(4.5,0.0113)(5.0,0.0112)(5.5,0.0114)(6.0,0.0115)(6.5,0.0117)(7.0,0.0113)(7.5,0.0115)(8.0,0.0118)(8.5,0.0122)(9.0,0.0124)(9.5,0.0127)(10.0,0.0126)(10.5,0.0130)(11.0,0.0134)(11.5,0.0132)(12.0,0.0130)(12.5,0.0135)(13.0,0.0138)(13.5,0.0140)(14.0,0.0136)(14.5,0.0141)(15.0,0.0133)(15.5,0.0122)(16.0,0.0119)(16.5,0.0120)(17.0,0.0124)(17.5,0.0118)(18.0,0.0128)(18.5,0.0134)(19.0,0.0131)(19.5,0.0128)(20.0,0.0133)(20.5,0.0125)(21.0,0.0120)(21.5,0.0128)(22.0,0.0126)(22.5,0.0122)(23.0,0.0128)(23.5,0.0133)(24.0,0.0137)};
\addplot[dots, color=cfiftytwo] coordinates {
(18.1,0.0736)(18.1,0.064)(18.15,0.059)(18.05,0.048)(18.1,0.046)(17.9,0.036)(17.85,0.033)(15.0,0.034)(22.1,0.035)(22.2,0.032)(22.4,0.027)(22.6,0.024)(22.6,0.044)(21.9,0.026)(23.0,0.019)(20.3,0.024)(18.3,0.022)(9.6,0.017)(12.0,0.016)(14.2,0.015)};
\end{axis}
% ---------------- texts ----------------
\node[anchor=base, font=\fontsize{18bp}{20bp}\selectfont] at (325.4bp,630bp) {URAP Direction Finding\ \ 2003-04-29};
\node[anchor=base, rotate=90, font=\fontsize{14bp}{16bp}\selectfont] at (53.3bp,470.7bp) {Azimuthal angle (deg)};
\node[anchor=base, rotate=90, font=\fontsize{14bp}{16bp}\selectfont] at (36.5bp,205.7bp) {Intensity (microvolt/sqrt(Hz))};
\node[anchor=base, font=\fontsize{14bp}{16bp}\selectfont] at (325bp,51.7bp) {time - hours on 2003-04-29};
\node[anchor=base west, inner sep=0pt, font=\fontsize{14bp}{16bp}\selectfont] at (553bp,430bp) {Saturn};
\node[anchor=base west, inner sep=0pt, font=\fontsize{14bp}{16bp}\selectfont] at (553bp,360bp) {Jupiter};
\begin{scope}[every node/.style={anchor=base west, inner sep=0pt, font=\fontsize{14bp}{16bp}\selectfont}]
\node at (100.7bp,25bp) {Frequencies (kHz):};
\node[text=cfiftytwo] at (230.7bp,25bp) {52};
\node[text=chundred] at (280bp,25bp) {100};
\node[text=conetwenty] at (330.7bp,25bp) {120};
\node[text=conefortyeight] at (380.7bp,25bp) {148};
\node[text=ctwoseventwo] at (430bp,25bp) {272};
\node[text=cfivefourty] at (480bp,25bp) {540};
\node[text=cninefourty] at (530bp,25bp) {940};
\end{scope}
\end{tikzpicture}
\end{document}
